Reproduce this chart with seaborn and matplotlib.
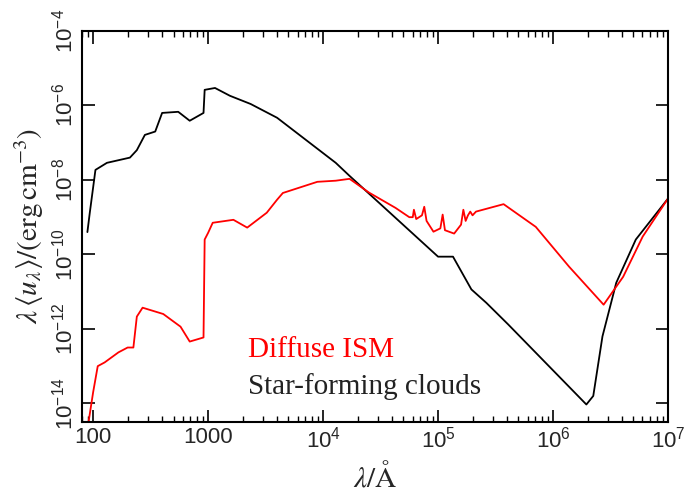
import matplotlib
matplotlib.use('Agg')
import numpy as np
import pandas as pd
import matplotlib.pyplot as plt
import seaborn as sns

# log10 wavelength (Angstrom) and log10 of lambda*u_lambda
lx_sf = [1.95, 1.97, 2.02, 2.12, 2.32, 2.38, 2.45, 2.54, 2.6, 2.74, 2.84, 2.96, 2.97, 3.06, 3.19, 3.37,
         3.6, 4.11, 4.23, 5.0, 5.13, 5.29, 5.42, 5.61, 6.29, 6.35, 6.43, 6.55, 6.72, 7.0]
ly_sf = [-9.4, -8.9, -7.73, -7.54, -7.4, -7.2, -6.79, -6.7, -6.2, -6.17, -6.41, -6.2, -5.58, -5.53, -5.74,
         -5.96, -6.33, -7.54, -7.89, -10.06, -10.06, -10.94, -11.3, -11.88, -14.03, -13.8, -12.2, -10.76,
         -9.6, -8.5]

lx_ism = [1.96, 2.0, 2.04, 2.1, 2.22, 2.3, 2.35, 2.38, 2.43, 2.61, 2.76, 2.84, 2.96, 2.97, 3.0, 3.04,
          3.22, 3.34, 3.51, 3.6, 3.65, 3.95, 4.11, 4.23, 4.4, 4.63, 4.75, 4.78, 4.79, 4.81, 4.86, 4.88,
          4.9, 4.96, 5.02, 5.04, 5.06, 5.14, 5.2, 5.22, 5.24, 5.26, 5.28, 5.3, 5.33, 5.57, 5.85, 6.14,
          6.44, 6.61, 6.78, 7.0]
ly_ism = [-14.5, -13.7, -13.0, -12.9, -12.63, -12.5, -12.5, -11.67, -11.43, -11.6, -11.94, -12.34, -12.23,
          -9.6, -9.42, -9.15, -9.07, -9.28, -8.88, -8.53, -8.35, -8.05, -8.02, -7.97, -8.34, -8.75, -9.0,
          -9.0, -8.8, -9.05, -8.95, -8.72, -9.1, -9.39, -9.3, -8.93, -9.35, -9.44, -9.2, -8.8, -9.1, -8.95,
          -8.85, -8.95, -8.85, -8.65, -9.26, -10.33, -11.35, -10.6, -9.52, -8.5]

df = pd.concat([
    pd.DataFrame({'wl': 10 ** np.array(lx_sf), 'lu': 10 ** np.array(ly_sf), 'env': 'Star-forming clouds'}),
    pd.DataFrame({'wl': 10 ** np.array(lx_ism), 'lu': 10 ** np.array(ly_ism), 'env': 'Diffuse ISM'}),
])

sns.set_style('ticks')
plt.rcParams['font.family'] = ['Liberation Sans', 'DejaVu Sans']
plt.rcParams['mathtext.fontset'] = 'stix'

fig = plt.figure(figsize=(6.86, 4.95), dpi=100)
ax = fig.add_axes([82 / 686, 73 / 495, 586 / 686, 391 / 495])
sns.lineplot(data=df, x='wl', y='lu', hue='env', palette={'Star-forming clouds': 'black', 'Diffuse ISM': 'red'},
             sort=False, estimator=None, legend=False, lw=1.3, ax=ax)
ax.set_xscale('log')
ax.set_yscale('log')
ax.set_xlim(80, 1e7)
ax.set_ylim(10 ** -14.5, 1e-4)
ax.set_yticks([1e-14, 1e-12, 1e-10, 1e-8, 1e-6, 1e-4])
ax.set_yticklabels([r'$\mathdefault{10^{-%d}}$' % k for k in [14, 12, 10, 8, 6, 4]])
ax.set_xticks([100, 1000, 1e4, 1e5, 1e6, 1e7])
ax.set_xticklabels(['100', '1000'] + [r'$\mathdefault{10^%d}$' % k for k in [4, 5, 6, 7]])
ax.tick_params(which='both', direction='in', top=True, right=True, labelsize=16, color='black')
ax.tick_params(which='major', length=9, width=1.2)
ax.tick_params(which='minor', length=4.5, width=1)
for lab in ax.get_yticklabels():
    lab.set_rotation(90)
    lab.set_va('center')
for s in ax.spines.values():
    s.set_linewidth(1.5)
    s.set_color('black')
ax.set_xlabel(r'$\lambda/\mathrm{\AA}$', fontsize=21, labelpad=6)
ax.set_ylabel(r'$\lambda\,\langle u_\lambda\rangle/(\mathrm{erg\,cm^{-3}})$', fontsize=21)
ax.text(0.283, 0.184, 'Diffuse ISM', color='red', fontsize=21, transform=ax.transAxes, va='center',
        family='Liberation Serif')
ax.text(0.283, 0.09, 'Star-forming clouds', color='#222222', fontsize=21, transform=ax.transAxes, va='center',
        family='Liberation Serif')

fig.savefig('out.png', dpi=100)
